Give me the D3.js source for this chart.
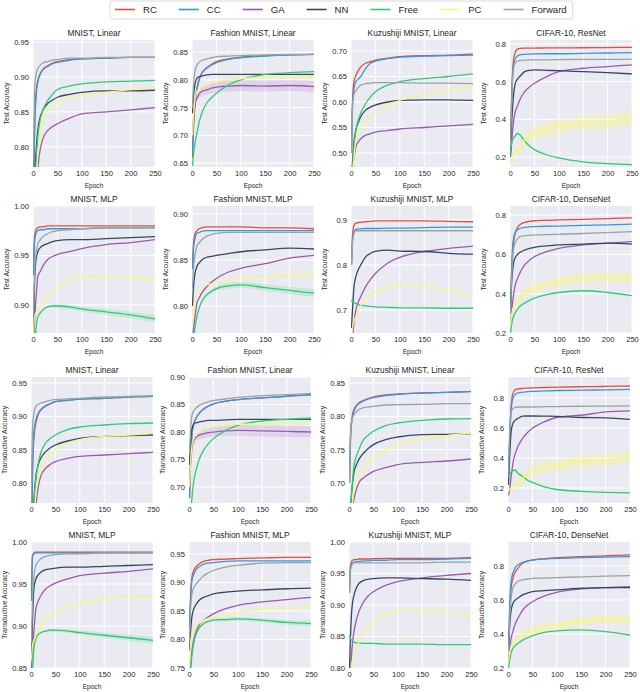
<!DOCTYPE html>
<html><head><meta charset="utf-8">
<script src="https://cdn.jsdelivr.net/npm/d3@7"></script>
<style>body{margin:0;background:#fff}svg{display:block;font-family:"Liberation Sans",Arial,sans-serif}</style>
</head><body><div id="chart"></div>
<script>
// ---------- DATA ----------
const epochs = [1, 3, 6, 10, 15, 20, 30, 40, 50, 75, 100, 150, 200, 250];
const seriesNames = ["RC", "CC", "GA", "NN", "Free", "PC", "Forward"];
const seriesColors = ["#e74c3c", "#3498db", "#9b59b6", "#34495e", "#2ecc71", "#f7f77a", "#95a5a6"];
const xTickValues = [0, 50, 100, 150, 200, 250];

const panelTitles = [
  "MNIST, Linear", "Fashion MNIST, Linear", "Kuzushiji MNIST, Linear", "CIFAR-10, ResNet",
  "MNIST, MLP", "Fashion MNIST, MLP", "Kuzushiji MNIST, MLP", "CIFAR-10, DenseNet",
  "MNIST, Linear", "Fashion MNIST, Linear", "Kuzushiji MNIST, Linear", "CIFAR-10, ResNet",
  "MNIST, MLP", "Fashion MNIST, MLP", "Kuzushiji MNIST, MLP", "CIFAR-10, DenseNet"
];
const rowYLabels = ["Test Accuracy", "Test Accuracy", "Transductive Accuracy", "Transductive Accuracy"];

const yRanges = [
  [0.771, 0.953], [0.643, 0.872], [0.4725, 0.7216], [0.147, 0.821],
  [0.8717, 1.0], [0.7707, 0.9087], [0.649, 0.931], [0.2, 0.846],
  [0.770, 0.959], [0.671, 0.90], [0.670, 0.859], [0.10, 0.94],
  [0.85, 1.0], [0.75, 0.971], [0.80, 1.0], [0.2, 0.941]
];
const yTickValues = [
  [0.80, 0.85, 0.90, 0.95], [0.65, 0.70, 0.75, 0.80, 0.85], [0.50, 0.55, 0.60, 0.65, 0.70], [0.2, 0.4, 0.6, 0.8],
  [0.90, 0.95, 1.00], [0.80, 0.85, 0.90], [0.7, 0.8, 0.9], [0.2, 0.4, 0.6, 0.8],
  [0.80, 0.85, 0.90, 0.95], [0.70, 0.75, 0.80, 0.85, 0.90], [0.70, 0.75, 0.80, 0.85], [0.2, 0.4, 0.6, 0.8],
  [0.85, 0.90, 0.95, 1.00], [0.75, 0.80, 0.85, 0.90, 0.95], [0.80, 0.85, 0.90, 0.95, 1.00], [0.2, 0.4, 0.6, 0.8]
];
const yTickDecimals = [2, 2, 2, 1, 2, 2, 1, 1, 2, 2, 2, 1, 2, 2, 2, 1];

// Row 1: test accuracy, linear / ResNet
const testMnistLinear = {
  RC:      [0.72, 0.82, 0.875, 0.895, 0.905, 0.911, 0.916, 0.920, 0.922, 0.925, 0.926, 0.927, 0.928, 0.928],
  CC:      [0.72, 0.81, 0.870, 0.893, 0.904, 0.910, 0.915, 0.919, 0.921, 0.924, 0.926, 0.927, 0.928, 0.928],
  GA:      [0.62, 0.68, 0.730, 0.770, 0.797, 0.811, 0.823, 0.829, 0.833, 0.841, 0.847, 0.850, 0.853, 0.856],
  NN:      [0.66, 0.74, 0.790, 0.825, 0.843, 0.852, 0.862, 0.867, 0.871, 0.875, 0.878, 0.880, 0.880, 0.881],
  Free:    [0.60, 0.70, 0.770, 0.815, 0.840, 0.852, 0.866, 0.875, 0.882, 0.887, 0.890, 0.893, 0.894, 0.895],
  PC:      [0.58, 0.67, 0.740, 0.790, 0.822, 0.838, 0.852, 0.859, 0.864, 0.870, 0.874, 0.878, 0.882, 0.884],
  Forward: [0.80, 0.875, 0.903, 0.912, 0.917, 0.920, 0.922, 0.924, 0.925, 0.927, 0.927, 0.928, 0.928, 0.928]
};
const testFashionLinear = {
  RC:      [0.66, 0.71, 0.755, 0.782, 0.801, 0.812, 0.822, 0.828, 0.833, 0.838, 0.841, 0.844, 0.845, 0.846],
  CC:      [0.67, 0.72, 0.760, 0.785, 0.802, 0.812, 0.821, 0.827, 0.831, 0.837, 0.840, 0.843, 0.845, 0.846],
  GA:      [0.70, 0.73, 0.755, 0.767, 0.775, 0.779, 0.782, 0.785, 0.787, 0.789, 0.790, 0.789, 0.790, 0.788],
  NN:      [0.74, 0.77, 0.792, 0.803, 0.806, 0.807, 0.809, 0.810, 0.810, 0.810, 0.810, 0.810, 0.810, 0.810],
  Free:    [0.645, 0.665, 0.685, 0.703, 0.725, 0.740, 0.758, 0.768, 0.776, 0.791, 0.800, 0.810, 0.813, 0.815],
  PC:      [0.70, 0.735, 0.765, 0.779, 0.785, 0.788, 0.791, 0.794, 0.797, 0.800, 0.802, 0.805, 0.806, 0.806],
  Forward: [0.75, 0.79, 0.815, 0.827, 0.832, 0.835, 0.838, 0.840, 0.842, 0.843, 0.844, 0.845, 0.846, 0.846]
};
const testKuzushijiLinear = {
  RC:      [0.50, 0.60, 0.640, 0.652, 0.662, 0.669, 0.676, 0.679, 0.682, 0.686, 0.689, 0.691, 0.692, 0.694],
  CC:      [0.50, 0.59, 0.625, 0.640, 0.645, 0.650, 0.666, 0.676, 0.680, 0.685, 0.688, 0.690, 0.691, 0.692],
  GA:      [0.44, 0.47, 0.490, 0.512, 0.522, 0.528, 0.535, 0.538, 0.541, 0.544, 0.547, 0.550, 0.553, 0.556],
  NN:      [0.45, 0.48, 0.520, 0.545, 0.560, 0.571, 0.584, 0.590, 0.594, 0.600, 0.603, 0.604, 0.604, 0.603],
  Free:    [0.44, 0.47, 0.510, 0.545, 0.565, 0.578, 0.597, 0.610, 0.620, 0.633, 0.640, 0.646, 0.650, 0.655],
  PC:      [0.42, 0.45, 0.490, 0.525, 0.538, 0.547, 0.561, 0.570, 0.578, 0.594, 0.603, 0.616, 0.624, 0.631],
  Forward: [0.50, 0.59, 0.615, 0.622, 0.629, 0.633, 0.636, 0.637, 0.638, 0.638, 0.638, 0.637, 0.637, 0.636]
};
const testCifarResNet = {
  RC:      [0.25, 0.48, 0.680, 0.750, 0.772, 0.777, 0.778, 0.778, 0.778, 0.779, 0.779, 0.780, 0.781, 0.782],
  CC:      [0.25, 0.47, 0.660, 0.715, 0.735, 0.742, 0.745, 0.746, 0.747, 0.748, 0.748, 0.750, 0.752, 0.754],
  GA:      [0.20, 0.26, 0.360, 0.432, 0.470, 0.503, 0.547, 0.572, 0.591, 0.627, 0.653, 0.671, 0.680, 0.689],
  NN:      [0.22, 0.36, 0.490, 0.582, 0.612, 0.627, 0.653, 0.660, 0.662, 0.660, 0.658, 0.653, 0.648, 0.641],
  Free:    [0.22, 0.27, 0.295, 0.310, 0.325, 0.318, 0.285, 0.258, 0.239, 0.212, 0.195, 0.174, 0.165, 0.160],
  PC:      [0.17, 0.19, 0.205, 0.220, 0.235, 0.248, 0.290, 0.310, 0.327, 0.350, 0.360, 0.379, 0.388, 0.406],
  Forward: [0.25, 0.45, 0.640, 0.697, 0.708, 0.712, 0.714, 0.715, 0.716, 0.716, 0.717, 0.718, 0.718, 0.719]
};
// Row 2: test accuracy, MLP / DenseNet
const testMnistMlp = {
  RC:      [0.93, 0.969, 0.976, 0.978, 0.979, 0.979, 0.980, 0.980, 0.980, 0.980, 0.980, 0.980, 0.980, 0.980],
  CC:      [0.93, 0.962, 0.972, 0.975, 0.976, 0.976, 0.977, 0.977, 0.977, 0.977, 0.977, 0.978, 0.978, 0.978],
  GA:      [0.84, 0.88, 0.905, 0.929, 0.934, 0.939, 0.946, 0.949, 0.951, 0.954, 0.957, 0.961, 0.963, 0.966],
  NN:      [0.86, 0.92, 0.945, 0.954, 0.958, 0.960, 0.962, 0.964, 0.965, 0.966, 0.966, 0.967, 0.968, 0.969],
  Free:    [0.80, 0.84, 0.875, 0.888, 0.892, 0.895, 0.898, 0.899, 0.899, 0.898, 0.896, 0.893, 0.890, 0.886],
  PC:      [0.87, 0.888, 0.892, 0.895, 0.899, 0.903, 0.910, 0.914, 0.918, 0.925, 0.928, 0.929, 0.928, 0.926],
  Forward: [0.89, 0.93, 0.951, 0.962, 0.966, 0.969, 0.972, 0.974, 0.975, 0.976, 0.977, 0.978, 0.978, 0.979]
};
const testFashionMlp = {
  RC:      [0.84, 0.868, 0.878, 0.882, 0.884, 0.885, 0.886, 0.886, 0.886, 0.886, 0.886, 0.885, 0.885, 0.884],
  CC:      [0.84, 0.862, 0.873, 0.879, 0.880, 0.881, 0.882, 0.882, 0.882, 0.882, 0.882, 0.882, 0.882, 0.882],
  GA:      [0.76, 0.775, 0.788, 0.803, 0.809, 0.814, 0.821, 0.826, 0.830, 0.837, 0.841, 0.846, 0.852, 0.855],
  NN:      [0.80, 0.82, 0.835, 0.843, 0.847, 0.850, 0.853, 0.854, 0.855, 0.857, 0.859, 0.861, 0.863, 0.862],
  Free:    [0.74, 0.76, 0.776, 0.788, 0.798, 0.805, 0.812, 0.816, 0.819, 0.822, 0.823, 0.820, 0.817, 0.814],
  PC:      [0.78, 0.795, 0.806, 0.814, 0.817, 0.819, 0.823, 0.824, 0.825, 0.828, 0.830, 0.832, 0.834, 0.834],
  Forward: [0.82, 0.84, 0.855, 0.865, 0.869, 0.872, 0.876, 0.878, 0.879, 0.880, 0.880, 0.880, 0.880, 0.880]
};
const testKuzushijiMlp = {
  RC:      [0.80, 0.863, 0.887, 0.893, 0.894, 0.895, 0.896, 0.897, 0.898, 0.898, 0.898, 0.898, 0.897, 0.896],
  CC:      [0.80, 0.85, 0.874, 0.879, 0.880, 0.880, 0.881, 0.881, 0.881, 0.882, 0.882, 0.883, 0.884, 0.884],
  GA:      [0.62, 0.64, 0.670, 0.700, 0.718, 0.730, 0.752, 0.768, 0.781, 0.804, 0.817, 0.830, 0.837, 0.842],
  NN:      [0.66, 0.70, 0.750, 0.774, 0.790, 0.800, 0.818, 0.826, 0.830, 0.833, 0.831, 0.830, 0.826, 0.824],
  Free:    [0.722, 0.718, 0.716, 0.715, 0.712, 0.711, 0.709, 0.708, 0.707, 0.706, 0.705, 0.705, 0.704, 0.704],
  PC:      [0.64, 0.66, 0.675, 0.685, 0.700, 0.711, 0.726, 0.734, 0.741, 0.752, 0.756, 0.753, 0.744, 0.733],
  Forward: [0.80, 0.85, 0.870, 0.876, 0.876, 0.876, 0.876, 0.876, 0.876, 0.876, 0.876, 0.876, 0.876, 0.876]
};
const testCifarDenseNet = {
  RC:      [0.30, 0.48, 0.630, 0.700, 0.735, 0.750, 0.763, 0.768, 0.771, 0.773, 0.775, 0.778, 0.782, 0.786],
  CC:      [0.32, 0.50, 0.660, 0.707, 0.724, 0.732, 0.737, 0.740, 0.741, 0.743, 0.744, 0.747, 0.750, 0.754],
  GA:      [0.25, 0.30, 0.370, 0.436, 0.475, 0.504, 0.546, 0.570, 0.588, 0.614, 0.631, 0.648, 0.657, 0.665],
  NN:      [0.30, 0.44, 0.535, 0.580, 0.598, 0.609, 0.622, 0.630, 0.636, 0.643, 0.648, 0.652, 0.657, 0.652],
  Free:    [0.20, 0.24, 0.275, 0.300, 0.320, 0.335, 0.352, 0.366, 0.377, 0.395, 0.406, 0.415, 0.406, 0.390],
  PC:      [0.24, 0.29, 0.325, 0.352, 0.368, 0.378, 0.403, 0.418, 0.429, 0.446, 0.462, 0.479, 0.484, 0.479],
  Forward: [0.30, 0.45, 0.600, 0.656, 0.677, 0.690, 0.695, 0.697, 0.699, 0.700, 0.702, 0.706, 0.711, 0.716]
};
// Row 3: transductive accuracy, linear / ResNet
const transMnistLinear = {
  RC:      [0.70, 0.81, 0.868, 0.890, 0.903, 0.909, 0.915, 0.919, 0.922, 0.924, 0.926, 0.927, 0.929, 0.930],
  CC:      [0.72, 0.82, 0.876, 0.895, 0.905, 0.910, 0.916, 0.919, 0.922, 0.924, 0.926, 0.927, 0.929, 0.930],
  GA:      [0.60, 0.66, 0.720, 0.765, 0.795, 0.810, 0.822, 0.828, 0.832, 0.837, 0.840, 0.842, 0.844, 0.846],
  NN:      [0.64, 0.72, 0.775, 0.810, 0.828, 0.837, 0.847, 0.853, 0.857, 0.863, 0.867, 0.870, 0.871, 0.872],
  Free:    [0.60, 0.69, 0.765, 0.805, 0.830, 0.845, 0.860, 0.867, 0.872, 0.880, 0.884, 0.887, 0.889, 0.890],
  PC:      [0.58, 0.66, 0.730, 0.785, 0.806, 0.820, 0.835, 0.843, 0.850, 0.860, 0.865, 0.870, 0.872, 0.875],
  Forward: [0.80, 0.88, 0.905, 0.915, 0.918, 0.920, 0.922, 0.924, 0.925, 0.926, 0.927, 0.929, 0.930, 0.931]
};
const transFashionLinear = {
  RC:      [0.68, 0.74, 0.795, 0.815, 0.826, 0.833, 0.842, 0.847, 0.851, 0.856, 0.859, 0.862, 0.865, 0.868],
  CC:      [0.68, 0.74, 0.795, 0.815, 0.826, 0.833, 0.842, 0.847, 0.851, 0.856, 0.859, 0.862, 0.865, 0.867],
  GA:      [0.70, 0.74, 0.770, 0.785, 0.791, 0.794, 0.797, 0.799, 0.800, 0.802, 0.803, 0.802, 0.801, 0.800],
  NN:      [0.74, 0.78, 0.806, 0.815, 0.817, 0.818, 0.820, 0.821, 0.821, 0.822, 0.823, 0.823, 0.823, 0.823],
  Free:    [0.62, 0.645, 0.680, 0.712, 0.732, 0.748, 0.767, 0.779, 0.788, 0.803, 0.812, 0.820, 0.823, 0.825],
  PC:      [0.70, 0.74, 0.775, 0.788, 0.795, 0.800, 0.806, 0.808, 0.810, 0.812, 0.814, 0.815, 0.817, 0.818],
  Forward: [0.76, 0.80, 0.830, 0.839, 0.844, 0.848, 0.852, 0.855, 0.857, 0.860, 0.863, 0.866, 0.868, 0.870]
};
const transKuzushijiLinear = {
  RC:      [0.70, 0.77, 0.797, 0.810, 0.816, 0.820, 0.824, 0.827, 0.829, 0.832, 0.8335, 0.835, 0.836, 0.8375],
  CC:      [0.70, 0.76, 0.793, 0.807, 0.815, 0.819, 0.823, 0.826, 0.828, 0.831, 0.833, 0.835, 0.836, 0.837],
  GA:      [0.60, 0.63, 0.655, 0.675, 0.690, 0.700, 0.708, 0.713, 0.7175, 0.723, 0.7275, 0.731, 0.733, 0.736],
  NN:      [0.62, 0.66, 0.690, 0.715, 0.727, 0.735, 0.745, 0.752, 0.7575, 0.765, 0.769, 0.7725, 0.773, 0.774],
  Free:    [0.60, 0.65, 0.690, 0.725, 0.740, 0.750, 0.765, 0.772, 0.7775, 0.786, 0.790, 0.794, 0.796, 0.7965],
  PC:      [0.60, 0.63, 0.660, 0.690, 0.702, 0.710, 0.7225, 0.730, 0.7375, 0.750, 0.7575, 0.766, 0.771, 0.775],
  Forward: [0.70, 0.77, 0.795, 0.802, 0.807, 0.810, 0.813, 0.814, 0.815, 0.817, 0.8175, 0.818, 0.819, 0.819]
};
const transCifarResNet = {
  RC:      [0.30, 0.50, 0.720, 0.829, 0.855, 0.860, 0.864, 0.866, 0.868, 0.870, 0.872, 0.875, 0.877, 0.880],
  CC:      [0.30, 0.48, 0.700, 0.796, 0.825, 0.833, 0.838, 0.842, 0.844, 0.847, 0.850, 0.852, 0.854, 0.857],
  GA:      [0.15, 0.18, 0.260, 0.365, 0.430, 0.475, 0.531, 0.570, 0.598, 0.642, 0.670, 0.685, 0.707, 0.714],
  NN:      [0.22, 0.38, 0.560, 0.630, 0.652, 0.663, 0.679, 0.680, 0.680, 0.679, 0.678, 0.670, 0.668, 0.657],
  Free:    [0.277, 0.29, 0.305, 0.316, 0.320, 0.300, 0.277, 0.252, 0.237, 0.207, 0.190, 0.178, 0.171, 0.167],
  PC:      [0.178, 0.19, 0.200, 0.211, 0.222, 0.233, 0.267, 0.292, 0.310, 0.343, 0.354, 0.376, 0.387, 0.404],
  Forward: [0.30, 0.52, 0.700, 0.730, 0.737, 0.740, 0.740, 0.740, 0.740, 0.742, 0.743, 0.745, 0.746, 0.747]
};
// Row 4: transductive accuracy, MLP / DenseNet
const transMnistMlp = {
  RC:      [0.93, 0.984, 0.987, 0.988, 0.988, 0.988, 0.988, 0.988, 0.988, 0.988, 0.988, 0.988, 0.988, 0.988],
  CC:      [0.93, 0.982, 0.986, 0.987, 0.987, 0.987, 0.987, 0.987, 0.987, 0.987, 0.987, 0.987, 0.987, 0.987],
  GA:      [0.85, 0.87, 0.895, 0.920, 0.930, 0.936, 0.944, 0.948, 0.951, 0.956, 0.960, 0.963, 0.965, 0.968],
  NN:      [0.86, 0.905, 0.945, 0.956, 0.961, 0.964, 0.967, 0.968, 0.969, 0.970, 0.970, 0.971, 0.972, 0.973],
  Free:    [0.82, 0.845, 0.873, 0.885, 0.890, 0.892, 0.894, 0.895, 0.895, 0.894, 0.892, 0.889, 0.886, 0.883],
  PC:      [0.86, 0.877, 0.883, 0.889, 0.895, 0.901, 0.909, 0.913, 0.917, 0.923, 0.927, 0.932, 0.935, 0.935],
  Forward: [0.88, 0.93, 0.960, 0.972, 0.977, 0.980, 0.983, 0.984, 0.985, 0.986, 0.986, 0.987, 0.987, 0.987]
};
const transFashionMlp = {
  RC:      [0.82, 0.87, 0.909, 0.921, 0.928, 0.932, 0.937, 0.939, 0.940, 0.941, 0.942, 0.943, 0.944, 0.944],
  CC:      [0.82, 0.865, 0.903, 0.915, 0.923, 0.927, 0.932, 0.934, 0.935, 0.937, 0.938, 0.938, 0.938, 0.938],
  GA:      [0.72, 0.75, 0.780, 0.801, 0.815, 0.825, 0.834, 0.840, 0.845, 0.854, 0.860, 0.866, 0.870, 0.874],
  NN:      [0.78, 0.81, 0.840, 0.854, 0.862, 0.868, 0.874, 0.877, 0.880, 0.883, 0.885, 0.887, 0.889, 0.890],
  Free:    [0.72, 0.745, 0.772, 0.795, 0.810, 0.819, 0.828, 0.832, 0.834, 0.835, 0.836, 0.834, 0.830, 0.828],
  PC:      [0.76, 0.79, 0.810, 0.819, 0.824, 0.828, 0.834, 0.837, 0.839, 0.844, 0.848, 0.853, 0.855, 0.857],
  Forward: [0.80, 0.85, 0.880, 0.891, 0.898, 0.903, 0.912, 0.917, 0.921, 0.927, 0.930, 0.934, 0.935, 0.935]
};
const transKuzushijiMlp = {
  RC:      [0.92, 0.963, 0.970, 0.972, 0.972, 0.973, 0.973, 0.973, 0.9735, 0.974, 0.974, 0.974, 0.974, 0.975],
  CC:      [0.92, 0.958, 0.966, 0.968, 0.969, 0.969, 0.970, 0.970, 0.971, 0.971, 0.972, 0.972, 0.973, 0.974],
  GA:      [0.76, 0.79, 0.830, 0.857, 0.876, 0.889, 0.905, 0.915, 0.921, 0.931, 0.937, 0.943, 0.947, 0.950],
  NN:      [0.80, 0.85, 0.895, 0.915, 0.927, 0.934, 0.939, 0.941, 0.942, 0.943, 0.943, 0.942, 0.941, 0.939],
  Free:    [0.852, 0.847, 0.844, 0.841, 0.840, 0.840, 0.839, 0.839, 0.839, 0.838, 0.838, 0.838, 0.837, 0.837],
  PC:      [0.78, 0.795, 0.808, 0.820, 0.832, 0.841, 0.857, 0.866, 0.873, 0.886, 0.892, 0.892, 0.888, 0.883],
  Forward: [0.92, 0.955, 0.964, 0.967, 0.967, 0.967, 0.967, 0.967, 0.967, 0.967, 0.967, 0.967, 0.968, 0.968]
};
const transCifarDenseNet = {
  RC:      [0.30, 0.48, 0.660, 0.727, 0.765, 0.786, 0.816, 0.828, 0.835, 0.843, 0.849, 0.855, 0.860, 0.865],
  CC:      [0.32, 0.52, 0.700, 0.757, 0.790, 0.806, 0.822, 0.830, 0.835, 0.841, 0.845, 0.849, 0.852, 0.855],
  GA:      [0.25, 0.30, 0.370, 0.414, 0.460, 0.490, 0.541, 0.570, 0.590, 0.624, 0.645, 0.665, 0.673, 0.678],
  NN:      [0.30, 0.43, 0.530, 0.580, 0.600, 0.610, 0.630, 0.641, 0.649, 0.655, 0.659, 0.669, 0.673, 0.673],
  Free:    [0.20, 0.24, 0.285, 0.315, 0.333, 0.344, 0.364, 0.378, 0.390, 0.410, 0.418, 0.424, 0.414, 0.394],
  PC:      [0.24, 0.28, 0.325, 0.344, 0.363, 0.378, 0.398, 0.412, 0.424, 0.440, 0.453, 0.472, 0.488, 0.483],
  Forward: [0.30, 0.45, 0.600, 0.669, 0.695, 0.709, 0.718, 0.723, 0.727, 0.729, 0.731, 0.736, 0.740, 0.743]
};

// Visible spread (shaded std band) for the noisiest curves
const spreadTestFashionLinearGA = [0.006, 0.006, 0.006, 0.006, 0.006, 0.008, 0.008, 0.009, 0.009, 0.010, 0.010, 0.010, 0.010, 0.010];
const spreadTransFashionLinearGA = [0.006, 0.006, 0.006, 0.006, 0.006, 0.008, 0.008, 0.008, 0.009, 0.009, 0.010, 0.010, 0.010, 0.010];
const spreadTestMnistMlpFree = [0.001, 0.001, 0.001, 0.001, 0.001, 0.001, 0.001, 0.0015, 0.002, 0.002, 0.0025, 0.003, 0.0035, 0.004];
const spreadTestFashionMlpFree = [0.001, 0.001, 0.001, 0.001, 0.0015, 0.002, 0.002, 0.002, 0.0025, 0.003, 0.003, 0.0035, 0.004, 0.0045];
const spreadTransMnistMlpFree = [0.001, 0.001, 0.001, 0.001, 0.001, 0.001, 0.001, 0.0015, 0.002, 0.002, 0.0025, 0.003, 0.0035, 0.004];
const spreadTransFashionMlpFree = [0.001, 0.001, 0.001, 0.001, 0.0015, 0.002, 0.002, 0.002, 0.0025, 0.003, 0.003, 0.0035, 0.004, 0.0045];
const spreadTestCifarResNetPC = [0.010, 0.010, 0.015, 0.020, 0.025, 0.030, 0.035, 0.035, 0.035, 0.040, 0.040, 0.040, 0.040, 0.040];
const spreadTestCifarDenseNetPC = [0.010, 0.010, 0.015, 0.020, 0.020, 0.020, 0.022, 0.022, 0.024, 0.024, 0.025, 0.025, 0.025, 0.025];
const spreadTransCifarResNetPC = [0.010, 0.010, 0.015, 0.020, 0.025, 0.030, 0.035, 0.035, 0.035, 0.040, 0.040, 0.040, 0.040, 0.040];
const spreadTransCifarDenseNetPC = [0.010, 0.010, 0.015, 0.020, 0.020, 0.020, 0.022, 0.022, 0.024, 0.024, 0.025, 0.025, 0.025, 0.025];

const panelData = [
  testMnistLinear, testFashionLinear, testKuzushijiLinear, testCifarResNet,
  testMnistMlp, testFashionMlp, testKuzushijiMlp, testCifarDenseNet,
  transMnistLinear, transFashionLinear, transKuzushijiLinear, transCifarResNet,
  transMnistMlp, transFashionMlp, transKuzushijiMlp, transCifarDenseNet
];
// panel index -> { series: spread array }
const panelSpreads = {
  1: { GA: spreadTestFashionLinearGA },
  3: { PC: spreadTestCifarResNetPC },
  4: { Free: spreadTestMnistMlpFree },
  5: { Free: spreadTestFashionMlpFree },
  7: { PC: spreadTestCifarDenseNetPC },
  9: { GA: spreadTransFashionLinearGA },
  11: { PC: spreadTransCifarResNetPC },
  12: { Free: spreadTransMnistMlpFree },
  13: { Free: spreadTransFashionMlpFree },
  15: { PC: spreadTransCifarDenseNetPC }
};

// ---------- LAYOUT ----------
const W = 640, H = 692;
const colLeftTest = [33, 192, 351, 510];
const colLeftTrans = [31, 189, 349, 508];
const rowTop = [40, 206, 377, 542];
const rowHeight = [127, 127, 126, 126];
const panelW = 122;
const textColor = "#262626";

const svg = d3.select("#chart").append("svg").attr("width", W).attr("height", H);
svg.append("rect").attr("width", W).attr("height", H).attr("fill", "#fff");
const defs = svg.append("defs");

panelData.forEach((pd, i) => {
  const row = Math.floor(i / 4), col = i % 4;
  const left = row < 2 ? colLeftTest[col] : colLeftTrans[col];
  const top = rowTop[row], h = rowHeight[row];
  const x = d3.scaleLinear().domain([0, 250]).range([0, panelW]);
  const y = d3.scaleLinear().domain(yRanges[i]).range([h, 0]);
  const g = svg.append("g").attr("transform", `translate(${left},${top})`);

  g.append("rect").attr("width", panelW).attr("height", h).attr("fill", "#eaeaf2");

  // grid
  g.append("g").selectAll("line").data(xTickValues).join("line")
    .attr("x1", d => x(d)).attr("x2", d => x(d)).attr("y1", 0).attr("y2", h)
    .attr("stroke", "#fff").attr("stroke-width", 1);
  g.append("g").selectAll("line").data(yTickValues[i]).join("line")
    .attr("x1", 0).attr("x2", panelW).attr("y1", d => y(d)).attr("y2", d => y(d))
    .attr("stroke", "#fff").attr("stroke-width", 1);

  // axes (labels only, seaborn darkgrid style)
  const fmt = d3.format("." + yTickDecimals[i] + "f");
  const yAxis = g.append("g").call(d3.axisLeft(y).tickValues(yTickValues[i]).tickFormat(fmt).tickSize(0).tickPadding(4));
  yAxis.select(".domain").remove();
  yAxis.selectAll("text").attr("font-size", 7.6).attr("fill", textColor).attr("font-family", "Liberation Sans, Arial, sans-serif");
  const xAxis = g.append("g").attr("transform", `translate(0,${h})`)
    .call(d3.axisBottom(x).tickValues(xTickValues).tickFormat(d3.format("d")).tickSize(0).tickPadding(4));
  xAxis.select(".domain").remove();
  xAxis.selectAll("text").attr("font-size", 7.6).attr("fill", textColor).attr("font-family", "Liberation Sans, Arial, sans-serif");

  // clip
  const cid = "clip" + i;
  defs.append("clipPath").attr("id", cid).append("rect").attr("width", panelW).attr("height", h);
  const plot = g.append("g").attr("clip-path", `url(#${cid})`);

  // bands
  const spreads = panelSpreads[i] || {};
  Object.keys(spreads).forEach(s => {
    const vals = pd[s], sp = spreads[s];
    const area = d3.area().x((d, k) => x(epochs[k]))
      .y0((d, k) => y(vals[k] - sp[k])).y1((d, k) => y(vals[k] + sp[k]))
      .curve(d3.curveMonotoneX);
    plot.append("path").datum(vals).attr("d", area)
      .attr("fill", seriesColors[seriesNames.indexOf(s)]).attr("fill-opacity", s === "PC" ? 0.3 : 0.16);
  });

  const lineGen = d3.line().x((d, k) => x(epochs[k])).y(d => y(d)).curve(d3.curveMonotoneX);
  seriesNames.forEach((s, si) => {
    plot.append("path").datum(pd[s]).attr("d", lineGen)
      .attr("fill", "none").attr("stroke", seriesColors[si]).attr("stroke-width", 1.3)
      .attr("stroke-linejoin", "round");
  });

  // title
  g.append("text").attr("x", panelW / 2).attr("y", -4).attr("text-anchor", "middle")
    .attr("font-size", 8.4).attr("fill", textColor).text(panelTitles[i]);
  // x label
  g.append("text").attr("x", panelW / 2).attr("y", h + 21).attr("text-anchor", "middle")
    .attr("font-size", 6.6).attr("fill", textColor).text("Epoch");
  // y label
  g.append("text").attr("transform", `translate(${-24},${h / 2}) rotate(-90)`).attr("text-anchor", "middle")
    .attr("font-size", 6.8).attr("fill", textColor).text(rowYLabels[row]);
});

// ---------- LEGEND ----------
const legend = svg.append("g");
const legendBox = legend.append("rect").attr("x", 110).attr("y", 1).attr("height", 18).attr("rx", 2)
  .attr("fill", "#fff").attr("stroke", "#d0d0d0").attr("stroke-width", 0.8);
let lx = 115;
seriesNames.forEach((s, si) => {
  legend.append("line").attr("x1", lx).attr("x2", lx + 20).attr("y1", 9.5).attr("y2", 9.5)
    .attr("stroke", seriesColors[si]).attr("stroke-width", 1.6);
  const t = legend.append("text").attr("x", lx + 28).attr("y", 13).attr("font-size", 9.6)
    .attr("fill", textColor).text(s);
  lx += 28 + t.node().getComputedTextLength() + 22;
});
legendBox.attr("width", lx - 22 + 6 - 110);
</script></body></html>
